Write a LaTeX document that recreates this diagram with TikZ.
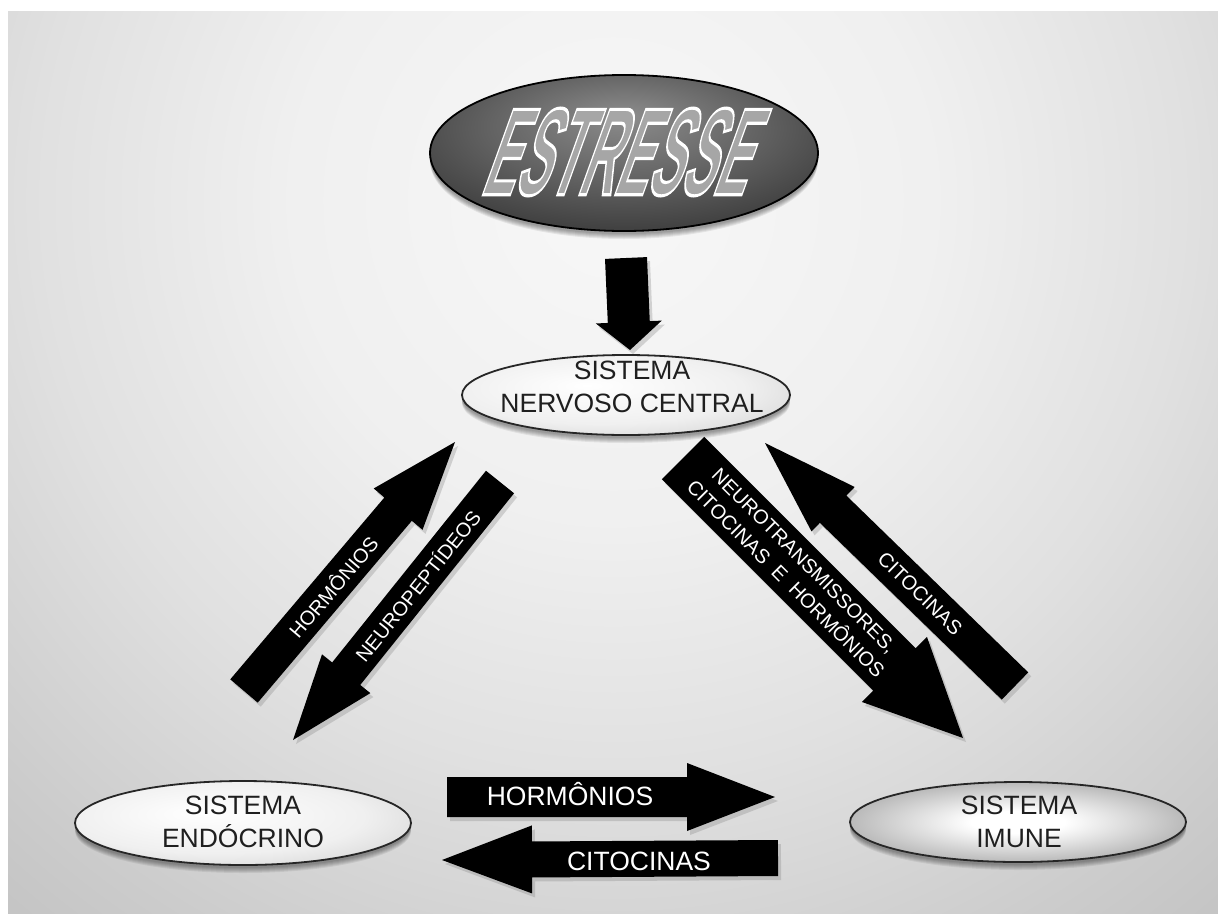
\documentclass[tikz,border=0pt]{standalone}
\usepackage{fontspec}
\setmainfont{Liberation Sans}
\usetikzlibrary{calc,shapes.geometric,shadows}
\definecolor{bgA}{gray}{0.97}
\definecolor{bgB}{gray}{0.94}
\definecolor{bgC}{gray}{0.88}
\definecolor{bgD}{gray}{0.80}
\definecolor{bgE}{gray}{0.74}
\definecolor{bgF}{gray}{0.68}
\definecolor{bgG}{gray}{0.65}
\definecolor{bgH}{gray}{0.63}
\pgfdeclareradialshading{bgshade}{\pgfpoint{0bp}{0bp}}{color(0bp)=(bgA); color(9bp)=(bgB); color(16bp)=(bgC); color(23bp)=(bgD); color(29bp)=(bgE); color(36bp)=(bgF); color(45bp)=(bgG); color(72bp)=(bgH)}
\pgfdeclareradialshading{estshade}{\pgfpoint{0bp}{12bp}}{color(0bp)=(black!45); color(18bp)=(black!62); color(40bp)=(black!84); color(62bp)=(black!92)}
\pgfdeclareradialshading{lightshade}{\pgfpoint{-6bp}{6bp}}{color(0bp)=(white); color(22bp)=(white!94!black); color(50bp)=(black!28); color(62bp)=(black!35)}
\pgfdeclareradialshading{imshade}{\pgfpoint{0bp}{0bp}}{color(0bp)=(white); color(7bp)=(white); color(48bp)=(black!62); color(62bp)=(black!70)}
\newcommand\blockarrow[5]{%
  \path ($(#2)!#5!(#1)$) coordinate (#1hb);
  \fill[arr] ($(#1)!#3!90:(#2)$) -- ($(#1hb)!#3!90:(#2)$) -- ($(#1hb)!#4!90:(#2)$) -- (#2)
     -- ($(#1hb)!#4!-90:(#2)$) -- ($(#1hb)!#3!-90:(#2)$) -- ($(#1)!#3!-90:(#2)$) -- cycle;}
\newcommand\softshadow[4]{%
  \foreach \i in {1,...,6}{\fill[black, opacity=0.07] (#1,#2+\i) ellipse [x radius=#3pt, y radius=#4pt];}}
\newcommand\esttext{\fontsize{124}{124}\selectfont\bfseries\special{pdf:code 2 Tr 1 1 1 RG 3.2 w}ESTRESSE\special{pdf:code 0 Tr}}
\begin{document}
\begin{tikzpicture}[x=1pt,y=-1pt,
  arr/.style={fill=black, drop shadow={opacity=0.3, shadow xshift=3pt, shadow yshift=-4pt}},
  lbl/.style={font=\fontsize{26.5}{33}\selectfont, align=center, text=black!88, inner sep=0pt},
  arrlbl/.style={font=\fontsize{26.5}{32}\selectfont, text=white, inner sep=0pt},
  diaglbl/.style={font=\fontsize{20}{26}\selectfont, text=white, inner sep=0pt, align=center},
  ell/.style={ellipse, draw=black!85, line width=1.8pt, inner sep=0pt},
]
\useasboundingbox (0,0) rectangle (1218,913);
\begin{scope}
  \clip (8,11) rectangle (1218,913);
  \shade[shading=bgshade] (-287,-700) rectangle (1513,1100);
\end{scope}

% ESTRESSE
\softshadow{624}{155}{194}{78}
\node[ell, draw=black, shade, shading=estshade, minimum width=388pt, minimum height=156pt] (est) at (624,153) {};
\begin{scope}[shift={(627,152)}]
  \node[transform shape, xslant=.36, xscale=.40, inner sep=0pt, text=black!35] (estt) at (0,0) {\esttext};
\end{scope}

% arrow down
\coordinate (a0t) at (626,258); \coordinate (a0p) at (630,350);
\blockarrow{a0t}{a0p}{21pt}{33pt}{28pt}

% SNC
\softshadow{626}{397}{164}{40}
\node[ell, shade, shading=lightshade, minimum width=328pt, minimum height=80pt] (snc) at (626,395) {};
\node[lbl] (snctxt) at (632,387) {SISTEMA\\NERVOSO CENTRAL};

% Endocrino
\softshadow{243}{825}{168}{42}
\node[ell, shade, shading=lightshade, minimum width=336pt, minimum height=84pt] (endo) at (243,823) {};
\node[lbl] (endotxt) at (243,822) {SISTEMA\\ENDÓCRINO};

% Imune
\softshadow{1018}{824}{168}{40}
\node[ell, shade, shading=imshade, minimum width=336pt, minimum height=80pt] (imune) at (1018,822) {};
\node[lbl] (imunetxt) at (1019,822) {SISTEMA\\IMUNE};

% diagonal arrows left
\coordinate (a1t) at (244,691); \coordinate (a1p) at (455,442);
\blockarrow{a1t}{a1p}{18pt}{32pt}{88pt}
\path (a1t) -- (a1p) node[diaglbl, pos=.42, sloped] (l1) {HORMÔNIOS};

\coordinate (a2t) at (500,482); \coordinate (a2p) at (293,740);
\blockarrow{a2t}{a2p}{18pt}{31pt}{85pt}
\path (a2t) -- (a2p) node[diaglbl, pos=.40, sloped] (l2) {NEUROPEPTÍDEOS};

% diagonal arrows right
\coordinate (a3t) at (683,458); \coordinate (a3p) at (963,738);
\blockarrow{a3t}{a3p}{30pt}{46pt}{97pt}
\path (a3t) -- (a3p) node[diaglbl, pos=.40, sloped] (l3) {NEUROTRANSMISSORES,\\CITOCINAS\ \ E\ \ HORMÔNIOS};

\coordinate (a4t) at (1015,686); \coordinate (a4p) at (765,443);
\blockarrow{a4t}{a4p}{19pt}{31pt}{95pt}
\path (a4t) -- (a4p) node[diaglbl, pos=.38, sloped] (l4) {CITOCINAS};

% bottom arrows
\coordinate (a5t) at (447,797); \coordinate (a5p) at (775,797);
\blockarrow{a5t}{a5p}{20pt}{34pt}{88pt}
\node[arrlbl, anchor=base] (l5) at (570,805) {HORMÔNIOS};

\coordinate (a6t) at (778,858); \coordinate (a6p) at (442,860);
\blockarrow{a6t}{a6p}{18pt}{34pt}{90pt}
\node[arrlbl, anchor=base] (l6) at (639,870) {CITOCINAS};
\end{tikzpicture}
\end{document}
